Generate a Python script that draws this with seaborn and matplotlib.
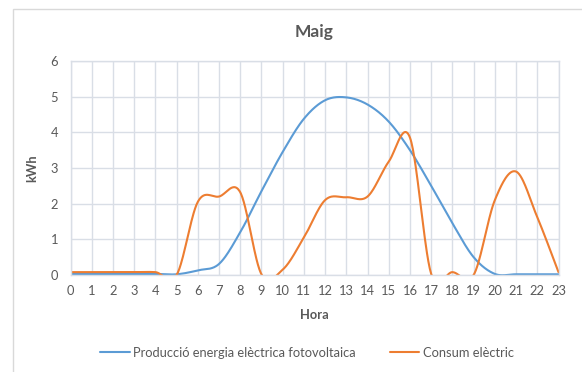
import numpy as np
import pandas as pd
import matplotlib
matplotlib.use("Agg")
import matplotlib.pyplot as plt
import seaborn as sns

# Hourly values (kWh)
hours = list(range(24))
produccio = [0.03, 0.03, 0.03, 0.03, 0.03, 0.02, 0.13, 0.31, 1.2, 2.35,
             3.45, 4.38, 4.9, 4.98, 4.78, 4.3, 3.5, 2.5, 1.45, 0.5,
             0.03, 0.02, 0.02, 0.02]
consum = [0.08, 0.08, 0.08, 0.08, 0.08, 0.0, 2.05, 2.2, 2.32, 0.02,
          0.15, 1.05, 2.1, 2.18, 2.2, 3.18, 3.85, 0.03, 0.08, 0.0,
          2.1, 2.9, 1.62, 0.08]
series_names = ["Producció energia elèctrica fotovoltaica", "Consum elèctric"]
colors = ["#5B9BD5", "#ED7D31"]


def smooth(x, y, n=30):
    """Spreadsheet-style smoothed line: cubic Bezier segments through each point."""
    p = np.column_stack([x, y]).astype(float)
    ext = np.vstack([p[0], p, p[-1]])
    out = []
    t = np.linspace(0, 1, n, endpoint=False)[:, None]
    for i in range(len(p) - 1):
        p0, p1 = ext[i + 1], ext[i + 2]
        c1 = p0 + (ext[i + 2] - ext[i]) / 6
        c2 = p1 - (ext[i + 3] - ext[i + 1]) / 6
        seg = ((1 - t) ** 3) * p0 + 3 * ((1 - t) ** 2) * t * c1 + 3 * (1 - t) * t ** 2 * c2 + t ** 3 * p1
        out.append(seg)
    out.append(p[-1][None, :])
    return np.vstack(out)


frames = []
for name, vals in zip(series_names, [produccio, consum]):
    s = smooth(hours, vals)
    frames.append(pd.DataFrame({"Hora": s[:, 0], "kWh": s[:, 1], "serie": name}))
df = pd.concat(frames, ignore_index=True)

sns.set_theme(style="white")
plt.rcParams["font.family"] = ["Lato", "DejaVu Sans"]

W, H = 582, 372
fig = plt.figure(figsize=(W / 100, H / 100), dpi=100)
x0, x1, y0, y1 = 70.5, 558.5, 275, 61
ax = fig.add_axes([x0 / W, 1 - y0 / H, (x1 - x0) / W, (y0 - y1) / H])

sns.lineplot(data=df, x="Hora", y="kWh", hue="serie", palette=colors,
             hue_order=series_names, sort=False, estimator=None,
             linewidth=1.5, ax=ax, legend=False)

ax.set_xlim(0, 23)
ax.set_ylim(0, 6)
ax.set_xticks(hours)
ax.set_yticks(range(7))
grid_c = "#D9DEE6"
ax.grid(True, color=grid_c, linewidth=1.0)
ax.set_axisbelow(True)
for sp in ax.spines.values():
    sp.set_color(grid_c)
    sp.set_linewidth(1.0)
ax.tick_params(axis="both", length=0, labelsize=9.3, colors="#595959")
ax.tick_params(axis="x", pad=7)
ax.tick_params(axis="y", pad=9)

ax.set_xlabel("Hora", fontsize=9.3, fontweight="bold", color="#595959", labelpad=9)
ax.set_ylabel("kWh", fontsize=9.3, fontweight="bold", color="#595959", labelpad=9)
ax.set_title("Maig", fontsize=12.5, fontweight="bold", color="#595959", pad=17)

handles = [plt.Line2D([], [], color=c, linewidth=1.5) for c in colors]
fig.legend(handles, series_names, loc="center", bbox_to_anchor=(307 / W, 1 - 353 / H),
           ncol=2, frameon=False, fontsize=9.3, labelcolor="#595959",
           handlelength=2.3, handletextpad=0.3, columnspacing=2.6)

# chart-area border
fig.patches.append(plt.Rectangle((13 / W, -0.1), 1.2, 1 - 9 / H + 0.1, transform=fig.transFigure,
                                 fill=False, edgecolor="#D9D9D9", linewidth=1.0))

fig.savefig("out.png", dpi=100)
